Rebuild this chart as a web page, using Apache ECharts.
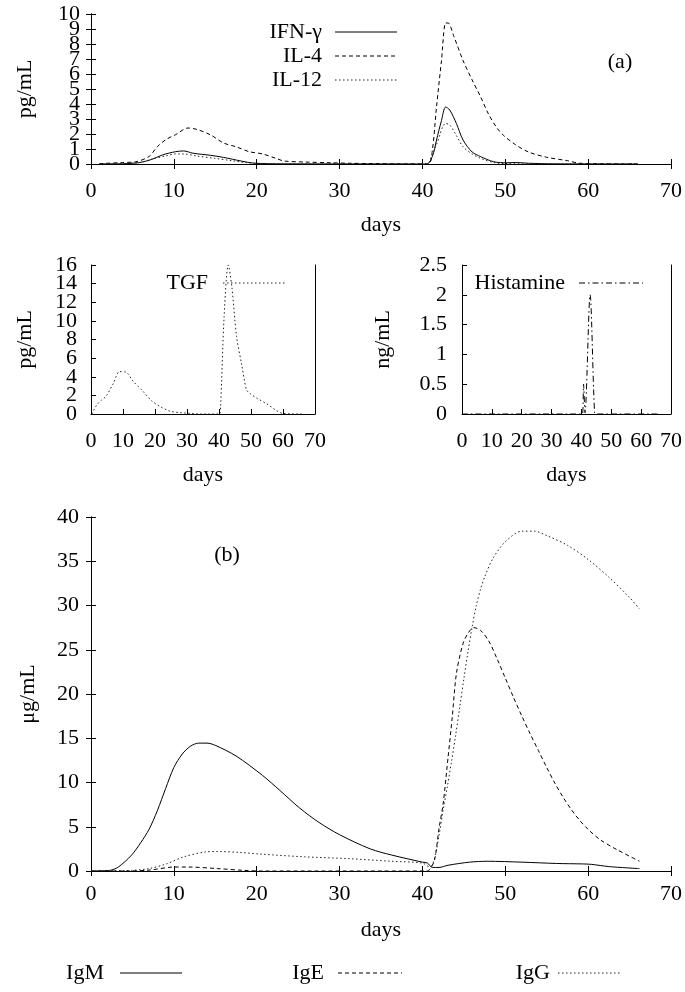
<!DOCTYPE html>
<html><head><meta charset="utf-8">
<script src="https://cdn.jsdelivr.net/npm/echarts@6/dist/echarts.min.js"></script>
<style>html,body{margin:0;padding:0;background:#fff}#c{width:685px;height:992px}</style>
</head><body><div id="c"></div>
<script>
// ---- data (day, value) ----
const ifnGamma = [[1,0],[4,0.02],[5.9,0.1],[7.3,0.3],[8.6,0.6],[10.2,0.82],[11.2,0.87],[12.3,0.72],[14.4,0.58],[16,0.44],[18.1,0.2],[19.6,0.06],[23.3,0.01],[40.5,0],[41.2,0.5],[41.7,1.6],[42.3,2.9],[42.8,3.8],[43.3,3.6],[44.1,2.7],[44.9,1.6],[46,0.8],[47,0.5],[48.6,0.15],[50.2,0.08],[51.2,0.1],[52.8,0.05],[56,0.01],[66,0]];
const il4 = [[1,0.02],[3.8,0.1],[5.4,0.15],[7,0.5],[8,1.15],[9.1,1.65],[10.2,1.95],[11.7,2.4],[12.8,2.3],[14.4,1.95],[16,1.4],[17.5,1.15],[19.1,0.82],[20.7,0.67],[22.3,0.38],[23.3,0.2],[25.9,0.13],[28.6,0.09],[31.2,0.05],[36.5,0.01],[40.7,0],[41.2,0.93],[41.7,3.8],[42.3,6.9],[42.8,9.4],[43.1,9.4],[43.8,8.5],[44.9,6.9],[46,5.6],[47,4.5],[48,3.3],[49,2.4],[49.8,1.9],[51.2,1.3],[52.8,0.8],[55,0.45],[57.5,0.22],[59,0.05],[62,0.01],[66,0]];
const il12 = [[1,0],[4,0.02],[5.9,0.1],[7.5,0.35],[9.1,0.55],[10.2,0.67],[11.2,0.67],[12.8,0.53],[14.9,0.38],[17,0.22],[18.6,0.1],[20.7,0.02],[25,0],[40.6,0],[41,0.4],[41.7,1.3],[42.8,2.7],[43.3,2.6],[44.1,1.9],[44.9,1.15],[46,0.67],[47,0.38],[48.6,0.1],[50,0.03],[55,0],[66,0]];
const tgf = [[0.3,0],[1.8,0.97],[3.3,1.5],[4.7,1.9],[7,3.3],[8.9,4.55],[10.9,4.5],[13.2,3.5],[15.8,2.6],[19,1.4],[21.6,0.8],[24.7,0.3],[27.8,0.15],[31,0.07],[34,0],[40.1,0],[40.5,0.8],[41.6,10.5],[42.9,16],[44,13.7],[45.5,8.3],[47.1,5.3],[48.6,2.6],[49.9,2.15],[51.8,1.7],[54.9,1.1],[58,0.36],[59.9,0.07],[65.8,0]];
const histamine = [[0,0],[40.3,0],[40.7,0.5],[41.2,0.02],[42.9,2.0],[44.4,0.02],[45,0],[66,0]];
const igM = [[0,0],[2.25,0.07],[3.3,0.45],[4.9,1.8],[6,3.2],[7,4.7],[8,6.8],[9,9.3],[10,11.7],[11,13.2],[12,14.1],[13,14.45],[14,14.45],[15,14.2],[17.5,13.0],[20.7,10.8],[22.8,9.1],[25.2,7.1],[27.5,5.5],[30,4.1],[33.7,2.5],[36.3,1.8],[40,1.0],[40.6,0.9],[41.2,0.4],[42,0.4],[43.1,0.65],[45.7,1.0],[47.8,1.1],[52,1.0],[56.2,0.85],[59.3,0.8],[60.4,0.75],[62.5,0.5],[66.2,0.27]];
const igE = [[0,0],[4.3,0],[7,0.1],[10.1,0.45],[11.7,0.45],[15.3,0.27],[18.5,0.07],[20.6,0],[40.5,0],[41,0.3],[41.5,1.4],[42,4.8],[42.5,7.6],[43.1,12.9],[43.6,17.4],[44.1,22.3],[44.9,25.7],[45.6,27.0],[46.2,27.5],[47,27.2],[48,26],[49,24],[50,21.8],[51,19.6],[52,17.5],[53,15.5],[54,13.6],[55,11.7],[56,9.9],[57,8.3],[58,6.9],[59,5.7],[60,4.7],[61.5,3.5],[63.5,2.4],[66.2,1.1]];
const igG = [[0,0],[4.9,0.07],[7,0.27],[9.1,0.8],[11.2,1.6],[13.8,2.15],[15.3,2.2],[17.9,2.1],[20.6,1.9],[25.8,1.6],[31,1.4],[36.3,1.1],[40,0.9],[40.8,0.5],[41.2,0.7],[41.6,2.0],[42,4.0],[42.5,6.9],[43,9.5],[43.5,12.3],[44,15.3],[44.5,18.5],[45,21.7],[45.5,24.8],[46,27.6],[46.5,30],[47,31.8],[47.5,33.2],[48.5,35.3],[50,37.2],[52,38.4],[53.5,38.4],[55,37.9],[57.5,36.8],[60,35.2],[62.5,33.2],[65,30.9],[66.2,29.6]];

// ---- styles ----
const FONT = 'Liberation Serif';
const FS = 22;
const BLACK = '#000';
const solid = {color: BLACK, width: 1, type: 'solid'};
const dashed = {color: BLACK, width: 1, type: [4, 3]};
const dotted = {color: '#222', width: 1, type: [1.5, 2.5]};
const dashdot = {color: BLACK, width: 1, type: [6, 3, 1.5, 3]};

const axisLine = {show: true, lineStyle: {color: BLACK, width: 1}};
const tick = {show: true, inside: true, length: 5, lineStyle: {color: BLACK}};
const lbl = (m, fmt) => {
  const o = {fontFamily: FONT, fontSize: FS, color: BLACK, margin: m,
    showMinLabel: true, showMaxLabel: true, hideOverlap: false};
  if (fmt) o.formatter = fmt;
  return o;
};
const nameStyle = {fontFamily: FONT, fontSize: FS, color: BLACK};

function xBottom(g, margin, gap) {
  return {type: 'value', gridIndex: g, position: 'bottom', min: 0, max: 70, interval: 10,
    axisLine, axisTick: tick, axisLabel: lbl(margin), splitLine: {show: false},
    name: 'days', nameLocation: 'middle', nameGap: gap, nameTextStyle: nameStyle};
}
function xTop(g) {
  return {type: 'value', gridIndex: g, position: 'top', min: 0, max: 70, interval: 10,
    axisLine, axisTick: tick, axisLabel: {show: false}, splitLine: {show: false}};
}
function yLeft(g, max, interval, margin, name, gap, fmt) {
  return {type: 'value', gridIndex: g, position: 'left', min: 0, max, interval,
    axisLine, axisTick: tick, axisLabel: lbl(margin, fmt), splitLine: {show: false},
    name, nameLocation: 'middle', nameGap: gap, nameRotate: 90, nameTextStyle: nameStyle};
}
// label-only companion axis (same scale) carrying the in-between tick labels
function yLabelsOnly(g, max, interval, margin, fmt) {
  return {type: 'value', gridIndex: g, position: 'left', min: 0, max, interval,
    axisLine: {show: false}, axisTick: {show: false}, axisLabel: lbl(margin, fmt), splitLine: {show: false}};
}
function yRight(g, max, interval, ticks) {
  return {type: 'value', gridIndex: g, position: 'right', min: 0, max, interval,
    axisLine, axisTick: Object.assign({}, tick, {show: ticks}), axisLabel: {show: false}, splitLine: {show: false}};
}

function line(name, data, xi, yi, ls) {
  return {name, type: 'line', data, xAxisIndex: xi, yAxisIndex: yi,
    showSymbol: false, symbol: 'none', smooth: 0.3, clip: true,
    lineStyle: ls, animation: false, silent: true};
}

const txt = (text, x, y, align) => ({type: 'text', x, y, silent: true,
  style: {text, fill: BLACK, font: FS + 'px "' + FONT + '"', textAlign: align || 'right', textVerticalAlign: 'middle'}});
const seg = (x1, x2, y, ls) => ({type: 'line', silent: true,
  shape: {x1, y1: y, x2, y2: y},
  style: {stroke: ls.color, lineWidth: 1, lineDash: Array.isArray(ls.type) ? ls.type : null}});

const evenOnly = v => (Math.round(v) % 2 === 0 ? String(v) : '');
const oddOnly = v => (Math.round(v) % 2 === 1 ? String(v) : '');
const mult4 = v => (Math.round(v) % 4 === 0 ? String(v) : '');
const rest4 = v => (Math.round(v) % 4 === 2 ? String(v) : '');

const option = {
  animation: false,
  backgroundColor: '#fff',
  grid: [
    {left: 91, top: 14, width: 582, height: 150},
    {left: 91, top: 265, width: 224, height: 149},
    {left: 462, top: 265, width: 210, height: 149},
    {left: 91, top: 517, width: 583, height: 354}
  ],
  xAxis: [xBottom(0, 16, 50), xTop(0), xBottom(1, 16, 50), xBottom(2, 16, 50), xBottom(3, 12, 48), xTop(3)],
  yAxis: [
    yLeft(0, 10, 1, 11, 'pg/mL', 55, evenOnly), yRight(0, 10, 1, true), yLabelsOnly(0, 10, 1, 11, oddOnly),
    yLeft(1, 16, 2, 14, 'pg/mL', 55, mult4), yRight(1, 16, 2, false), yLabelsOnly(1, 16, 2, 14, rest4),
    yLeft(2, 2.5, 0.5, 15, 'ng/mL', 68), yRight(2, 2.5, 0.5, false),
    yLeft(3, 40, 5, 12, '\u03bcg/mL', 52), yRight(3, 40, 5, true)
  ],
  series: [
    line('IFN-\u03b3', ifnGamma, 0, 0, solid),
    line('IL-4', il4, 0, 0, dashed),
    line('IL-12', il12, 0, 0, dotted),
    line('TGF', tgf, 2, 3, dotted),
    line('Histamine', histamine, 3, 6, dashdot),
    line('IgM', igM, 4, 8, solid),
    line('IgE', igE, 4, 8, dashed),
    line('IgG', igG, 4, 8, dotted)
  ],
  graphic: [
    txt('IFN-\u03b3', 322, 32), seg(335, 397, 32, solid),
    txt('IL-4', 322, 56), seg(335, 397, 56, dashed),
    txt('IL-12', 322, 80), seg(335, 397, 80, dotted),
    txt('(a)', 620, 62, 'center'),
    txt('TGF', 208, 283), seg(223, 287, 283, dotted),
    txt('Histamine', 565, 283), seg(579, 643, 283, dashdot),
    txt('(b)', 227, 555, 'center'),
    txt('IgM', 104, 973), seg(120, 182, 973, solid),
    txt('IgE', 324, 973), seg(338, 402, 973, dashed),
    txt('IgG', 550, 973), seg(558, 620, 973, dotted)
  ]
};
const chart = echarts.init(document.getElementById('c'), null, {renderer: 'canvas'});
chart.setOption(option);
</script>
</body></html>
